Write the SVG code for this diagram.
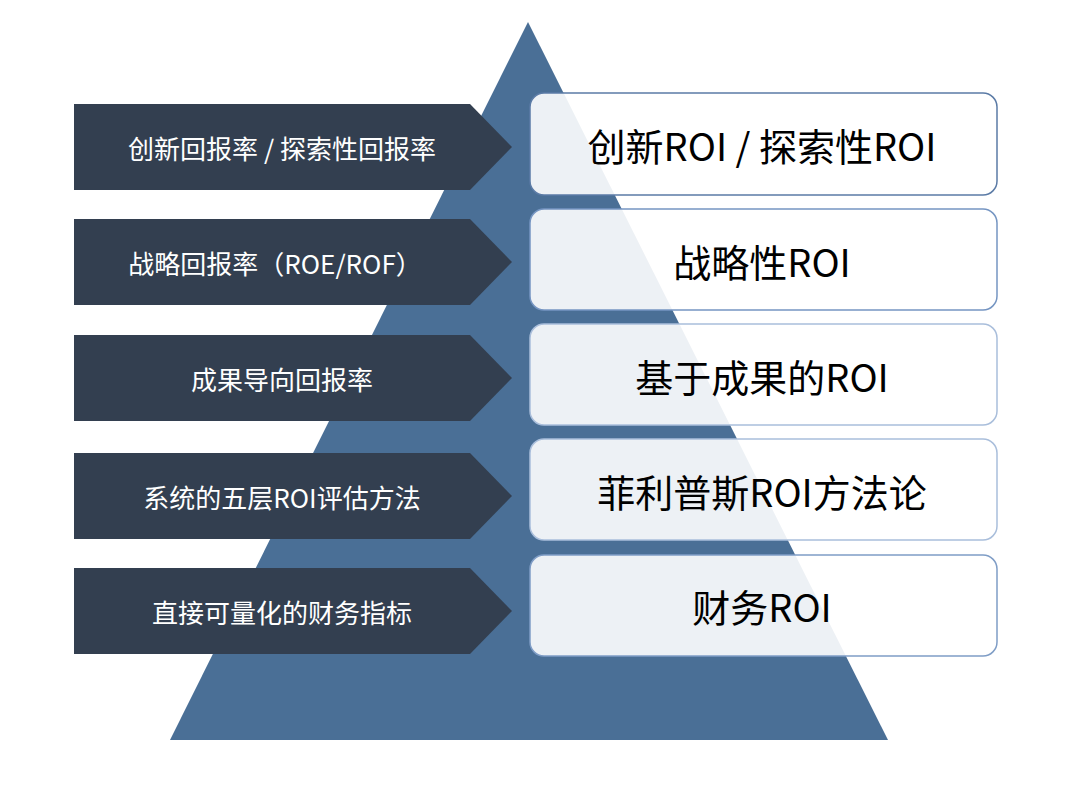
<svg xmlns="http://www.w3.org/2000/svg" width="1070" height="802" viewBox="0 0 1070 802">
<style>
.arr{fill:#333f50}
.box{fill:#ffffff;fill-opacity:0.9;stroke:#7f9dc6;stroke-width:1.5}
.lt{font-family:"Noto Sans CJK SC","Liberation Sans",sans-serif;font-size:26px;fill:#ffffff;text-anchor:middle;dominant-baseline:central}
.rt{font-family:"Noto Sans CJK SC","Liberation Sans",sans-serif;font-size:38px;fill:#000000;text-anchor:middle;dominant-baseline:central}
</style>
<rect width="1070" height="802" fill="#ffffff"/>
<polygon id="pyramid" points="528,22 888,740 170,740" fill="#4a6f96"/>
<g id="connectors"></g>
<g id="l1"><polygon class="arr" points="74,104 470,104 512,147 470,190 74,190"/><text class="lt" x="282" y="147">创新回报率 / 探索性回报率</text></g>
<g id="l2"><polygon class="arr" points="74,219 470,219 512,262 470,305 74,305"/><text class="lt" x="275" y="262">战略回报率（ROE/ROF）</text></g>
<g id="l3"><polygon class="arr" points="74,335 470,335 512,378 470,421 74,421"/><text class="lt" x="282" y="378">成果导向回报率</text></g>
<g id="l4"><polygon class="arr" points="74,453 470,453 512,496 470,539 74,539"/><text class="lt" x="282" y="496">系统的五层ROI评估方法</text></g>
<g id="l5"><polygon class="arr" points="74,568 470,568 512,611 470,654 74,654"/><text class="lt" x="282" y="611">直接可量化的财务指标</text></g>
<g id="r1"><rect class="box" x="530" y="93" width="467" height="102" rx="14" style="stroke:#5b7ba6"/><text class="rt" x="762" y="144">创新ROI / 探索性ROI</text></g>
<g id="r2"><rect class="box" x="530" y="209" width="467" height="101" rx="14" style="stroke:#7595c2"/><text class="rt" x="762" y="260">战略性ROI</text></g>
<g id="r3"><rect class="box" x="530" y="324" width="467" height="101" rx="14" style="stroke:#a9bedb"/><text class="rt" x="762" y="375">基于成果的ROI</text></g>
<g id="r4"><rect class="box" x="530" y="439" width="467" height="101" rx="14" style="stroke:#a9bedb"/><text class="rt" x="762" y="490">菲利普斯ROI方法论</text></g>
<g id="r5"><rect class="box" x="530" y="555" width="467" height="101" rx="14" style="stroke:#7f9dc6"/><text class="rt" x="762" y="605">财务ROI</text></g>
</svg>
